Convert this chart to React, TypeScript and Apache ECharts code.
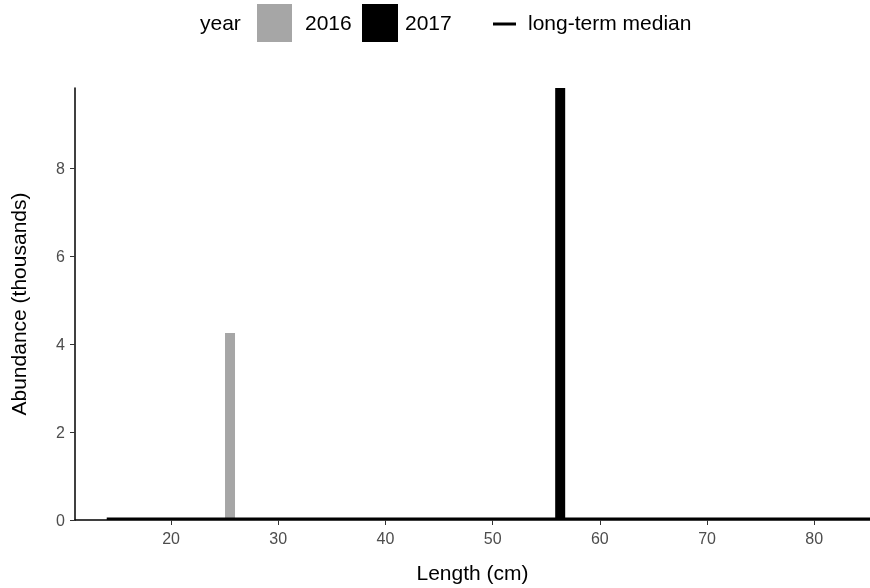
import { useEffect, useRef } from "react";
import * as echarts from "echarts";

const bars2016: [number, number][] = [[25.5, 4.25]];
const bars2017: [number, number][] = [[56.3, 9.9]];
const median: [number, number][] = [[14, 0.03], [85.2, 0.03]];
const xTicks = [20, 30, 40, 50, 60, 70, 80];
const yTicks = [0, 2, 4, 6, 8];

export default function App() {
  const ref = useRef<HTMLDivElement>(null);

  useEffect(() => {
    if (!ref.current) return;
    const chart = echarts.init(ref.current, undefined, { renderer: "svg" });
    const font = "Liberation Sans, Arial, sans-serif";
    chart.setOption({
      animation: false,
      grid: { left: 69, right: 0, top: 88, bottom: 68 },
      xAxis: {
        type: "value",
        min: 11.04,
        max: 85.2,
        name: "Length (cm)",
        nameLocation: "middle",
        nameGap: 42,
        nameTextStyle: { fontSize: 21, color: "#000", fontFamily: font },
        axisLine: { onZero: false, lineStyle: { color: "#000", width: 1.5 } },
        axisTick: { customValues: xTicks, lineStyle: { color: "#333" }, length: 5 },
        axisLabel: { customValues: xTicks, fontSize: 16, color: "#4d4d4d", fontFamily: font, margin: 10 },
        splitLine: { show: false },
      },
      yAxis: {
        type: "value",
        min: 0,
        max: 9.82,
        name: "Abundance (thousands)",
        nameLocation: "middle",
        nameGap: 46,
        nameTextStyle: { fontSize: 21, color: "#000", fontFamily: font },
        axisLine: { show: true, onZero: false, lineStyle: { color: "#000", width: 1.5 } },
        axisTick: { show: true, customValues: yTicks, lineStyle: { color: "#333" }, length: 5 },
        axisLabel: { customValues: yTicks, fontSize: 16, color: "#4d4d4d", fontFamily: font, margin: 10 },
        splitLine: { show: false },
      },
      graphic: [
        { type: "text", left: 200, top: 12, style: { text: "year", fontSize: 21, fontFamily: font, fill: "#000" } },
        { type: "rect", shape: { x: 257, y: 4, width: 35, height: 38 }, style: { fill: "#a6a6a6" } },
        { type: "text", left: 305, top: 12, style: { text: "2016", fontSize: 21, fontFamily: font, fill: "#000" } },
        { type: "rect", shape: { x: 362, y: 4, width: 36, height: 38 }, style: { fill: "#000" } },
        { type: "text", left: 405, top: 12, style: { text: "2017", fontSize: 21, fontFamily: font, fill: "#000" } },
        { type: "line", shape: { x1: 493, y1: 24, x2: 516, y2: 24 }, style: { stroke: "#000", lineWidth: 3 } },
        { type: "text", left: 528, top: 12, style: { text: "long-term median", fontSize: 21, fontFamily: font, fill: "#000" } },
      ],
      series: [
        { name: "2016", type: "bar", data: bars2016, barWidth: 10, itemStyle: { color: "#a6a6a6" }, barGap: "-100%" },
        { name: "2017", type: "bar", data: bars2017, barWidth: 10, itemStyle: { color: "#000" } },
        {
          name: "long-term median", type: "line", data: median, symbol: "none",
          lineStyle: { color: "#000", width: 2.5 },
        },
      ],
    });
    return () => chart.dispose();
  }, []);

  return <div ref={ref} style={{ position: "fixed", left: 0, top: 0, width: 870, height: 588 }} />;
}
